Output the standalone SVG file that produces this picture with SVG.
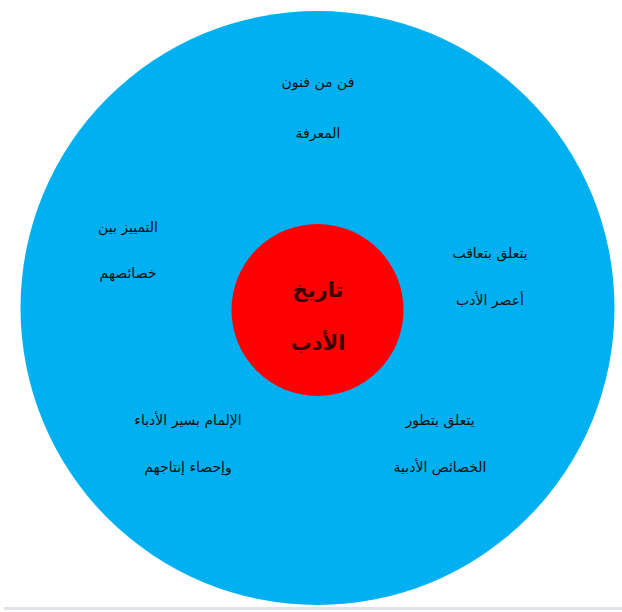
<svg xmlns="http://www.w3.org/2000/svg" width="622" height="612" viewBox="0 0 622 612">
<style>
.t{font-family:"DejaVu Sans",sans-serif;font-size:14px;fill:#111;text-anchor:middle;direction:rtl}
.c{font-family:"DejaVu Sans",sans-serif;font-size:21px;font-weight:bold;fill:#3a0000;text-anchor:middle;direction:rtl}
</style>
<rect width="622" height="612" fill="#ffffff"/>
<line x1="4" y1="608.5" x2="622" y2="608.5" stroke="#dfe3ea" stroke-width="3"/>
<g id="outer">
<circle cx="317.5" cy="308" r="297" fill="#00B0F0"/>
<text class="t" x="318" y="87">فن من فنون</text>
<text class="t" x="318" y="138">المعرفة</text>
<text class="t" x="128" y="232">التمييز بين</text>
<text class="t" x="128" y="278">خصائصهم</text>
<text class="t" x="490" y="258">يتعلق بتعاقب</text>
<text class="t" x="490" y="305">أعصر الأدب</text>
<text class="t" x="188" y="425">الإلمام بسير الأدباء</text>
<text class="t" x="188" y="472">وإحصاء إنتاجهم</text>
<text class="t" x="440" y="425">يتعلق بتطور</text>
<text class="t" x="440" y="472">الخصائص الأدبية</text>
</g>
<g id="center">
<circle cx="317.5" cy="310" r="86" fill="#FF0000"/>
<text class="c" x="318" y="297">تاريخ</text>
<text class="c" x="318" y="350">الأدب</text>
</g>
<g id="connectors"></g>
</svg>
